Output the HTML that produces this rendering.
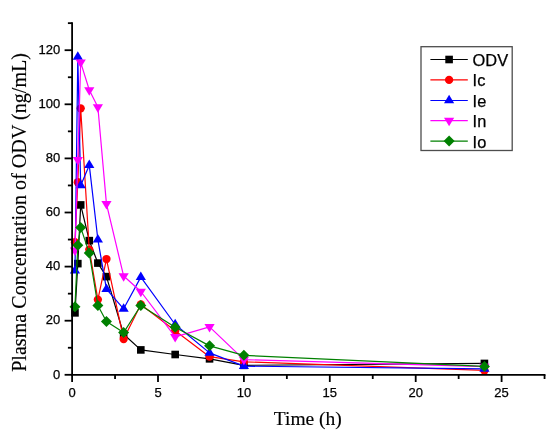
<!DOCTYPE html>
<html><head><meta charset="utf-8"><title>Plasma Concentration of ODV</title>
<style>
html,body{margin:0;padding:0;background:#fff;}
body{width:550px;height:433px;overflow:hidden;}
svg{display:block;}
.tk{font-family:"Liberation Sans",Arial,sans-serif;font-size:13px;fill:#000;stroke:#000;stroke-width:0.25px;}
.lg{font-family:"Liberation Sans",Arial,sans-serif;font-size:16.4px;fill:#000;stroke:#000;stroke-width:0.25px;}
.ti{font-family:"Liberation Serif","Times New Roman",serif;font-size:20.1px;fill:#000;stroke:#000;stroke-width:0.15px;}
</style></head><body>
<svg width="550" height="433" viewBox="0 0 550 433">
<rect width="550" height="433" fill="#fff"/>

<polyline points="74.97,312.86 77.82,263.62 80.69,204.93 89.28,240.63 97.87,263.08 106.46,276.61 123.64,334.23 140.82,349.91 175.18,354.51 209.54,358.84 243.90,365.33 484.42,363.44" fill="none" stroke="#000000" stroke-width="1.2" stroke-linejoin="round"/>
<rect x="71.17" y="309.06" width="7.6" height="7.6" fill="#000000"/>
<rect x="74.02" y="259.82" width="7.6" height="7.6" fill="#000000"/>
<rect x="76.89" y="201.13" width="7.6" height="7.6" fill="#000000"/>
<rect x="85.48" y="236.83" width="7.6" height="7.6" fill="#000000"/>
<rect x="94.07" y="259.28" width="7.6" height="7.6" fill="#000000"/>
<rect x="102.66" y="272.81" width="7.6" height="7.6" fill="#000000"/>
<rect x="119.84" y="330.43" width="7.6" height="7.6" fill="#000000"/>
<rect x="137.02" y="346.11" width="7.6" height="7.6" fill="#000000"/>
<rect x="171.38" y="350.71" width="7.6" height="7.6" fill="#000000"/>
<rect x="205.74" y="355.04" width="7.6" height="7.6" fill="#000000"/>
<rect x="240.10" y="361.53" width="7.6" height="7.6" fill="#000000"/>
<rect x="480.62" y="359.64" width="7.6" height="7.6" fill="#000000"/>
<polyline points="74.97,242.25 77.82,182.20 80.69,108.36 89.28,249.56 97.87,299.60 106.46,259.03 123.64,339.09 140.82,304.47 175.18,330.71 209.54,356.68 243.90,361.82 484.42,370.47" fill="none" stroke="#ff0000" stroke-width="1.2" stroke-linejoin="round"/>
<circle cx="74.97" cy="242.25" r="4.15" fill="#ff0000"/>
<circle cx="77.82" cy="182.20" r="4.15" fill="#ff0000"/>
<circle cx="80.69" cy="108.36" r="4.15" fill="#ff0000"/>
<circle cx="89.28" cy="249.56" r="4.15" fill="#ff0000"/>
<circle cx="97.87" cy="299.60" r="4.15" fill="#ff0000"/>
<circle cx="106.46" cy="259.03" r="4.15" fill="#ff0000"/>
<circle cx="123.64" cy="339.09" r="4.15" fill="#ff0000"/>
<circle cx="140.82" cy="304.47" r="4.15" fill="#ff0000"/>
<circle cx="175.18" cy="330.71" r="4.15" fill="#ff0000"/>
<circle cx="209.54" cy="356.68" r="4.15" fill="#ff0000"/>
<circle cx="243.90" cy="361.82" r="4.15" fill="#ff0000"/>
<circle cx="484.42" cy="370.47" r="4.15" fill="#ff0000"/>
<polyline points="74.97,270.66 77.82,56.96 80.69,185.45 89.28,165.16 97.87,239.55 106.46,289.05 123.64,308.80 140.82,277.15 175.18,324.49 209.54,352.89 243.90,366.14 484.42,368.85" fill="none" stroke="#0000ff" stroke-width="1.2" stroke-linejoin="round"/>
<polygon points="74.97,264.99 69.87,273.49 80.07,273.49" fill="#0000ff"/>
<polygon points="77.82,51.30 72.72,59.80 82.92,59.80" fill="#0000ff"/>
<polygon points="80.69,179.78 75.59,188.28 85.79,188.28" fill="#0000ff"/>
<polygon points="89.28,159.50 84.18,168.00 94.38,168.00" fill="#0000ff"/>
<polygon points="97.87,233.88 92.77,242.38 102.97,242.38" fill="#0000ff"/>
<polygon points="106.46,283.38 101.36,291.88 111.56,291.88" fill="#0000ff"/>
<polygon points="123.64,303.13 118.54,311.63 128.74,311.63" fill="#0000ff"/>
<polygon points="140.82,271.48 135.72,279.98 145.92,279.98" fill="#0000ff"/>
<polygon points="175.18,318.82 170.08,327.32 180.28,327.32" fill="#0000ff"/>
<polygon points="209.54,347.22 204.44,355.72 214.64,355.72" fill="#0000ff"/>
<polygon points="243.90,360.48 238.80,368.98 249.00,368.98" fill="#0000ff"/>
<polygon points="484.42,363.18 479.32,371.68 489.52,371.68" fill="#0000ff"/>
<polyline points="74.97,250.37 77.82,159.75 80.69,62.37 89.28,89.96 97.87,107.00 106.46,203.84 123.64,276.07 140.82,291.49 175.18,336.93 209.54,326.92 243.90,359.65 484.42,366.69" fill="none" stroke="#ff00ff" stroke-width="1.2" stroke-linejoin="round"/>
<polygon points="74.97,256.04 69.87,247.54 80.07,247.54" fill="#ff00ff"/>
<polygon points="77.82,165.42 72.72,156.92 82.92,156.92" fill="#ff00ff"/>
<polygon points="80.69,68.04 75.59,59.54 85.79,59.54" fill="#ff00ff"/>
<polygon points="89.28,95.63 84.18,87.13 94.38,87.13" fill="#ff00ff"/>
<polygon points="97.87,112.67 92.77,104.17 102.97,104.17" fill="#ff00ff"/>
<polygon points="106.46,209.51 101.36,201.01 111.56,201.01" fill="#ff00ff"/>
<polygon points="123.64,281.73 118.54,273.23 128.74,273.23" fill="#ff00ff"/>
<polygon points="140.82,297.15 135.72,288.65 145.92,288.65" fill="#ff00ff"/>
<polygon points="175.18,342.60 170.08,334.10 180.28,334.10" fill="#ff00ff"/>
<polygon points="209.54,332.59 204.44,324.09 214.64,324.09" fill="#ff00ff"/>
<polygon points="243.90,365.32 238.80,356.82 249.00,356.82" fill="#ff00ff"/>
<polygon points="484.42,372.35 479.32,363.85 489.52,363.85" fill="#ff00ff"/>
<polyline points="74.97,306.63 77.82,245.23 80.69,227.38 89.28,253.07 97.87,305.55 106.46,321.51 123.64,332.60 140.82,305.55 175.18,327.19 209.54,345.86 243.90,355.32 484.42,366.41" fill="none" stroke="#008000" stroke-width="1.2" stroke-linejoin="round"/>
<polygon points="74.97,301.13 80.47,306.63 74.97,312.13 69.47,306.63" fill="#008000"/>
<polygon points="77.82,239.73 83.32,245.23 77.82,250.73 72.32,245.23" fill="#008000"/>
<polygon points="80.69,221.88 86.19,227.38 80.69,232.88 75.19,227.38" fill="#008000"/>
<polygon points="89.28,247.57 94.78,253.07 89.28,258.57 83.78,253.07" fill="#008000"/>
<polygon points="97.87,300.05 103.37,305.55 97.87,311.05 92.37,305.55" fill="#008000"/>
<polygon points="106.46,316.01 111.96,321.51 106.46,327.01 100.96,321.51" fill="#008000"/>
<polygon points="123.64,327.10 129.14,332.60 123.64,338.10 118.14,332.60" fill="#008000"/>
<polygon points="140.82,300.05 146.32,305.55 140.82,311.05 135.32,305.55" fill="#008000"/>
<polygon points="175.18,321.69 180.68,327.19 175.18,332.69 169.68,327.19" fill="#008000"/>
<polygon points="209.54,340.36 215.04,345.86 209.54,351.36 204.04,345.86" fill="#008000"/>
<polygon points="243.90,349.82 249.40,355.32 243.90,360.82 238.40,355.32" fill="#008000"/>
<polygon points="484.42,360.91 489.92,366.41 484.42,371.91 478.92,366.41" fill="#008000"/>
<g stroke="#000" stroke-width="1.8" fill="none">
<line x1="72.1" y1="22.25" x2="72.1" y2="375.70"/>
<line x1="71.19999999999999" y1="374.8" x2="545.45" y2="374.8"/>
<line x1="64.60" y1="374.80" x2="72.1" y2="374.80"/>
<line x1="67.90" y1="347.75" x2="72.1" y2="347.75"/>
<line x1="64.60" y1="320.70" x2="72.1" y2="320.70"/>
<line x1="67.90" y1="293.65" x2="72.1" y2="293.65"/>
<line x1="64.60" y1="266.60" x2="72.1" y2="266.60"/>
<line x1="67.90" y1="239.55" x2="72.1" y2="239.55"/>
<line x1="64.60" y1="212.50" x2="72.1" y2="212.50"/>
<line x1="67.90" y1="185.45" x2="72.1" y2="185.45"/>
<line x1="64.60" y1="158.40" x2="72.1" y2="158.40"/>
<line x1="67.90" y1="131.35" x2="72.1" y2="131.35"/>
<line x1="64.60" y1="104.30" x2="72.1" y2="104.30"/>
<line x1="67.90" y1="77.25" x2="72.1" y2="77.25"/>
<line x1="64.60" y1="50.20" x2="72.1" y2="50.20"/>
<line x1="67.90" y1="23.15" x2="72.1" y2="23.15"/>
<line x1="72.10" y1="374.8" x2="72.10" y2="382.00"/>
<line x1="115.05" y1="374.8" x2="115.05" y2="379.00"/>
<line x1="158.00" y1="374.8" x2="158.00" y2="382.00"/>
<line x1="200.95" y1="374.8" x2="200.95" y2="379.00"/>
<line x1="243.90" y1="374.8" x2="243.90" y2="382.00"/>
<line x1="286.85" y1="374.8" x2="286.85" y2="379.00"/>
<line x1="329.80" y1="374.8" x2="329.80" y2="382.00"/>
<line x1="372.75" y1="374.8" x2="372.75" y2="379.00"/>
<line x1="415.70" y1="374.8" x2="415.70" y2="382.00"/>
<line x1="458.65" y1="374.8" x2="458.65" y2="379.00"/>
<line x1="501.60" y1="374.8" x2="501.60" y2="382.00"/>
<line x1="544.55" y1="374.8" x2="544.55" y2="379.00"/>
</g>
<text class="tk" x="60.3" y="378.50" text-anchor="end">0</text>
<text class="tk" x="60.3" y="324.40" text-anchor="end">20</text>
<text class="tk" x="60.3" y="270.30" text-anchor="end">40</text>
<text class="tk" x="60.3" y="216.20" text-anchor="end">60</text>
<text class="tk" x="60.3" y="162.10" text-anchor="end">80</text>
<text class="tk" x="60.3" y="108.00" text-anchor="end">100</text>
<text class="tk" x="60.3" y="53.90" text-anchor="end">120</text>
<text class="tk" x="72.10" y="397" text-anchor="middle">0</text>
<text class="tk" x="158.00" y="397" text-anchor="middle">5</text>
<text class="tk" x="243.90" y="397" text-anchor="middle">10</text>
<text class="tk" x="329.80" y="397" text-anchor="middle">15</text>
<text class="tk" x="415.70" y="397" text-anchor="middle">20</text>
<text class="tk" x="501.60" y="397" text-anchor="middle">25</text>
<text class="ti" style="font-size:19.5px" x="307.8" y="425.3" text-anchor="middle">Time (h)</text>
<text class="ti" transform="translate(26.2,212.4) rotate(-90)" text-anchor="middle">Plasma Concentration of ODV (ng/mL)</text>
<rect x="421" y="46.7" width="91.2" height="103.8" fill="#fff" stroke="#4d4d4d" stroke-width="1.3"/>
<line x1="430.4" y1="59.5" x2="467.8" y2="59.5" stroke="#000000" stroke-width="1.1"/>
<rect x="445.30" y="55.70" width="7.6" height="7.6" fill="#000000"/>
<text class="lg" x="472.6" y="66.00">ODV</text>
<line x1="430.4" y1="79.9" x2="467.8" y2="79.9" stroke="#ff0000" stroke-width="1.1"/>
<circle cx="449.10" cy="79.90" r="4.15" fill="#ff0000"/>
<text class="lg" x="472.6" y="86.40">Ic</text>
<line x1="430.4" y1="100.5" x2="467.8" y2="100.5" stroke="#0000ff" stroke-width="1.1"/>
<polygon points="449.10,94.83 444.00,103.33 454.20,103.33" fill="#0000ff"/>
<text class="lg" x="472.6" y="107.00">Ie</text>
<line x1="430.4" y1="120.6" x2="467.8" y2="120.6" stroke="#ff00ff" stroke-width="1.1"/>
<polygon points="449.10,126.27 444.00,117.77 454.20,117.77" fill="#ff00ff"/>
<text class="lg" x="472.6" y="127.10">In</text>
<line x1="430.4" y1="141.1" x2="467.8" y2="141.1" stroke="#008000" stroke-width="1.1"/>
<polygon points="449.10,135.60 454.60,141.10 449.10,146.60 443.60,141.10" fill="#008000"/>
<text class="lg" x="472.6" y="147.60">Io</text>
</svg></body></html>
